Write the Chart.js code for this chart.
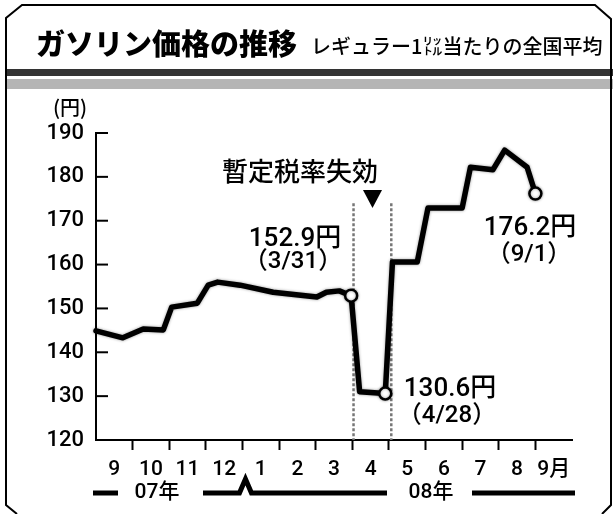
<!DOCTYPE html>
<html>
<head>
<meta charset="utf-8">
<script src="https://cdn.jsdelivr.net/npm/chart.js@4/dist/chart.umd.min.js"></script>
<style>
  html, body { margin: 0; padding: 0; background: #fff; }
  #wrap { width: 613px; height: 514px; position: relative; }
</style>
</head>
<body>
<div id="wrap"><canvas id="gasChart" width="613" height="514"></canvas></div>
<script>
// weekly regular gasoline price (yen per litre)
const dates = [
  '2007-09-01', '2007-09-23', '2007-10-10', '2007-10-27', '2007-11-03',
  '2007-11-24', '2007-12-03', '2007-12-11', '2007-12-30', '2008-01-27',
  '2008-03-02', '2008-03-10', '2008-03-21', '2008-03-31', '2008-04-07',
  '2008-04-28', '2008-05-04', '2008-05-25', '2008-06-03', '2008-07-01',
  '2008-07-08', '2008-07-27', '2008-08-06', '2008-08-25', '2008-09-01'
];
const prices = [
  144.9, 143.3, 145.3, 145.1, 150.3,
  151.2, 155.3, 156.0, 155.3, 153.7,
  152.6, 153.7, 154.0, 152.9, 131.0,
  130.6, 160.6, 160.6, 172.9, 172.9,
  182.2, 181.6, 186.1, 182.2, 176.2
];
const monthLabels = ['9', '10', '11', '12', '1', '2', '3', '4', '5', '6', '7', '8', '9月'];
const yTicks = [120, 130, 140, 150, 160, 170, 180, 190];
const markedDates = ['2008-03-31', '2008-04-28', '2008-09-01'];
const taxLineDates = ['2008-04-02', '2008-05-03'];

// months since 2007-09-01
function monthPos(s) {
  const [y, m, d] = s.split('-').map(Number);
  const days = new Date(y, m, 0).getDate();
  return (y - 2007) * 12 + (m - 9) + (d - 1) / days;
}

const points = dates.map((d, i) => ({ x: monthPos(d), y: prices[i] }));
const markedIdx = markedDates.map(d => dates.indexOf(d));

const JP = "'Noto Sans CJK JP', sans-serif";
const NUM = "Roboto, 'Noto Sans CJK JP', sans-serif";

function txt(ctx, s, x, y, font, align) {
  ctx.font = font;
  ctx.textAlign = align || 'center';
  ctx.textBaseline = 'middle';
  ctx.fillStyle = '#000';
  ctx.fillText(s, x, y);
}

const decor = {
  id: 'decor',
  beforeDraw(chart) {
    const ctx = chart.ctx;
    ctx.save();
    ctx.fillStyle = '#fff';
    ctx.fillRect(0, 0, 613, 514);
    // header bars
    ctx.fillStyle = '#333';
    ctx.fillRect(6, 69, 607, 7);
    ctx.fillStyle = '#b5b5b5';
    ctx.fillRect(6, 79, 607, 10);
    // frame
    ctx.strokeStyle = '#000';
    ctx.lineWidth = 2;
    ctx.beginPath();
    ctx.moveTo(17, 514);
    ctx.lineTo(6, 505);
    ctx.lineTo(6, 18);
    ctx.lineTo(22, 5);
    ctx.lineTo(595, 5);
    ctx.lineTo(611, 19);
    ctx.lineTo(611, 505);
    ctx.lineTo(602, 514);
    ctx.stroke();
    // titles
    txt(ctx, 'ガソリン価格の推移', 36, 44, '900 29px ' + JP, 'left');
    txt(ctx, 'レギュラー1㍑当たりの全国平均', 311, 46, '500 20px ' + JP, 'left');
    txt(ctx, '(円)', 70, 107, '500 20px ' + JP);
    ctx.restore();
  },
  beforeDatasetsDraw(chart) {
    const ctx = chart.ctx;
    const xs = chart.scales.x, ys = chart.scales.y;
    ctx.save();
    // y tick marks pointing into the plot
    ctx.strokeStyle = '#000';
    ctx.lineWidth = 2;
    yTicks.forEach(v => {
      const y = ys.getPixelForValue(v);
      ctx.beginPath();
      ctx.moveTo(xs.left, y);
      ctx.lineTo(xs.left + 12, y);
      ctx.stroke();
    });
    // dotted lines: tax lapse period
    ctx.strokeStyle = '#777';
    ctx.lineWidth = 2.5;
    ctx.setLineDash([3, 2]);
    taxLineDates.forEach(d => {
      const x = xs.getPixelForValue(monthPos(d));
      ctx.beginPath();
      ctx.moveTo(x, ys.getPixelForValue(174));
      ctx.lineTo(x, ys.bottom);
      ctx.stroke();
    });
    ctx.restore();
    ctx.save();
    ctx.shadowColor = 'rgba(0,0,0,0.4)';
    ctx.shadowBlur = 3;
  },
  afterDatasetsDraw(chart) {
    const ctx = chart.ctx;
    ctx.restore();
    const xs = chart.scales.x;
    ctx.save();
    txt(ctx, '暫定税率失効', 300, 171, '500 26px ' + JP);
    ctx.fillStyle = '#000';
    ctx.beginPath();
    ctx.moveTo(363, 190);
    ctx.lineTo(382, 190);
    ctx.lineTo(372.5, 208);
    ctx.closePath();
    ctx.fill();

    txt(ctx, '152.9円', 295, 239, '500 26px ' + NUM);
    txt(ctx, '（3/31）', 293, 262, '500 24px ' + NUM);
    txt(ctx, '130.6円', 450, 389, '500 26px ' + NUM);
    txt(ctx, '（4/28）', 447, 416, '500 24px ' + NUM);
    txt(ctx, '176.2円', 530, 228, '500 26px ' + NUM);
    txt(ctx, '（9/1）', 529, 255, '500 24px ' + NUM);

    // year strip
    const yy = 493;
    ctx.strokeStyle = '#000';
    ctx.lineWidth = 5;
    ctx.lineJoin = 'miter';
    ctx.beginPath();
    ctx.moveTo(93, yy); ctx.lineTo(118, yy);
    const jan = xs.getPixelForValue(monthPos('2008-01-01')) + 3;
    ctx.moveTo(203, yy);
    ctx.lineTo(jan - 6, yy);
    ctx.lineTo(jan, yy - 14);
    ctx.lineTo(jan + 6, yy);
    ctx.lineTo(387, yy);
    ctx.moveTo(472, yy); ctx.lineTo(575, yy);
    ctx.stroke();
    txt(ctx, '07年', 157, yy, '500 21px ' + NUM);
    txt(ctx, '08年', 431, yy, '500 21px ' + NUM);
    ctx.restore();
  }
};

Chart.defaults.font.family = NUM;
Chart.defaults.font.weight = '500';
Chart.defaults.color = '#000';

new Chart(document.getElementById('gasChart'), {
  type: 'line',
  data: {
    datasets: [{
      data: points,
      borderColor: '#000',
      borderWidth: 5.5,
      borderJoinStyle: 'round',
      borderCapStyle: 'round',
      tension: 0,
      pointRadius: ctx => markedIdx.includes(ctx.dataIndex) ? 6 : 0,
      pointHoverRadius: 0,
      pointBackgroundColor: '#fff',
      pointBorderColor: '#000',
      pointBorderWidth: 2.5,
      clip: false
    }]
  },
  options: {
    responsive: false,
    animation: false,
    events: [],
    layout: { padding: { left: 0, top: 133, right: 41, bottom: 0 } },
    plugins: { legend: { display: false }, tooltip: { enabled: false } },
    scales: {
      x: {
        type: 'linear',
        min: 0,
        max: 13,
        afterFit: s => { s.height = 74; },
        border: { display: true, color: '#000', width: 2 },
        grid: {
          drawOnChartArea: false,
          tickLength: 10,
          tickWidth: 2,
          tickColor: c => (Number.isInteger(c.tick.value) && c.tick.value > 0 && c.tick.value < 13) ? '#000' : 'rgba(0,0,0,0)'
        },
        ticks: {
          stepSize: 0.5,
          autoSkip: false,
          maxRotation: 0,
          padding: 7,
          font: { size: 21 },
          callback: v => (v % 1 === 0.5) ? monthLabels[Math.floor(v)] : ''
        }
      },
      y: {
        min: 120,
        max: 190,
        afterFit: s => { s.width = 96; },
        border: { display: true, color: '#000', width: 2 },
        grid: { display: false },
        ticks: {
          stepSize: 10,
          padding: 4,
          font: { size: 22 }
        }
      }
    }
  },
  plugins: [decor]
});
</script>
</body>
</html>
